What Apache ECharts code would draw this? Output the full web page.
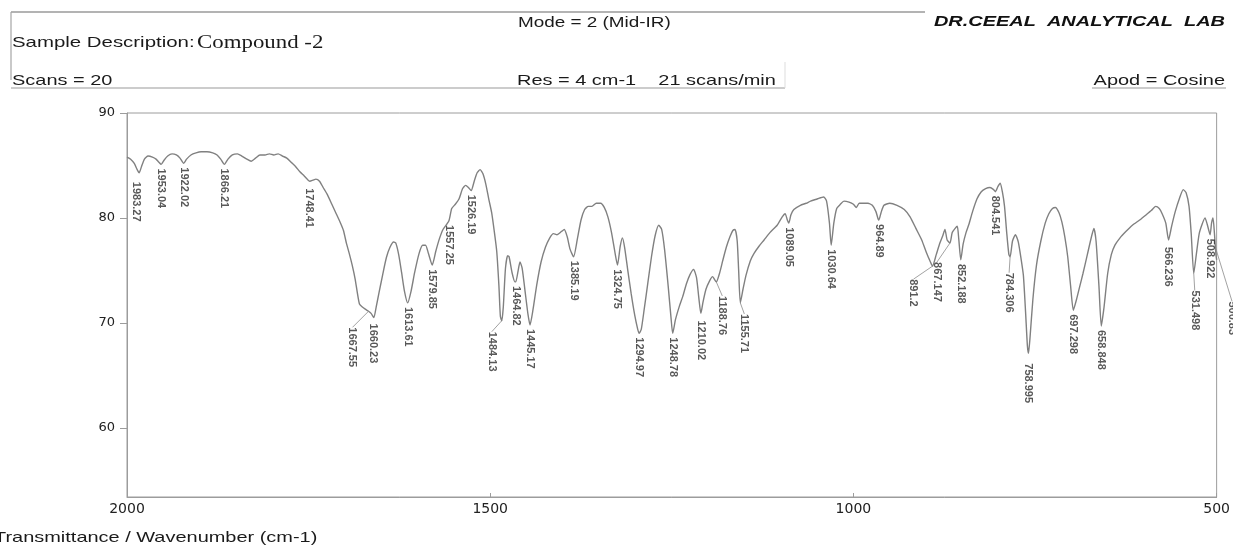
<!DOCTYPE html>
<html><head><meta charset="utf-8">
<script src="https://cdn.jsdelivr.net/npm/echarts@6/dist/echarts.min.js"></script>
<style>html,body{margin:0;padding:0;background:#fff}#c{width:1233px;height:545px}</style>
</head><body><div id="c"></div>
<script>
// ---- spectrum (wavenumber cm-1 / %T) ----
const wavenumbers = [2000,1995,1990,1986,1983.3,1980,1976,1971,1965,1960,1956,1953,1949,1944,1938,1932,1927,1922,1918,1912,1905,1898,1890,1882,1876,1871,1866,1861,1855,1848,1842,1835,1829,1823,1817,1810,1804,1798,1792,1786,1780,1774,1768,1762,1756,1752,1748.4,1744,1740,1735,1730,1724,1718,1712,1706,1702,1698,1694,1690,1686,1683,1680,1676,1672,1667.5,1664,1660.2,1657,1653,1648,1643,1638,1633,1630,1626,1622,1618,1613.6,1609,1604,1598,1593,1589,1585,1579.8,1575,1570,1565,1557,1553,1548,1543,1538,1534,1530,1526.2,1522,1518,1514,1510,1506,1502,1498,1494,1491,1488,1486,1484.1,1482,1479,1476,1474,1470,1466,1464.8,1462,1459,1456,1452,1448,1445.2,1441,1436,1430,1424,1418,1413,1408,1402,1398,1394,1390,1385.2,1380,1375,1370,1365,1360,1354,1348,1343,1338,1333,1328,1324.8,1321,1318,1315,1311,1306,1301,1297,1295,1292,1288,1283,1278,1273,1268,1264,1260,1255,1251,1248.8,1245,1240,1235,1230,1225,1220,1216,1213,1210,1207,1203,1198,1194,1188.8,1184,1180,1175,1170,1166,1163,1160,1158,1155.7,1152,1148,1142,1137,1130,1123,1115,1105,1098,1094,1091,1089,1086,1082,1073,1065,1059,1050,1041,1037,1033,1030.6,1027,1023,1018,1013,1006,1000,996,992,986,980,974,969,966,964.9,962,958,950,940,930,922,914,906,899,894,891.2,886,881,877,874,871,867.1,864,860,857,855,852.2,849,845,841,836,830,824,818,812,807,804.5,801,798,795,792,789,786,784.3,781,777,773,769,766,763,760.5,759,757,753,748,742,736,731,726,722,717,713,709,705,701,697.3,693,688,684,678,672,669,666,662,658.8,655,650,645,640,633,625,616,606,597,590,584,579,575,570,566.2,562,557,551,546,542,538,535,531.5,528,524,520,516,513,509,507,505,503,501,500];
const transmittance = [85.8,85.6,85.2,84.6,84.3,84.9,85.6,85.9,85.8,85.6,85.3,85.1,85.5,85.9,86.1,86.0,85.7,85.2,85.6,86.0,86.2,86.3,86.3,86.2,86.0,85.6,85.1,85.6,86.0,86.1,85.9,85.6,85.4,85.7,86.0,86.0,86.1,86.0,86.1,85.9,85.7,85.3,84.9,84.4,84.0,83.7,83.5,83.6,83.7,83.5,82.9,82.2,81.3,80.4,79.5,78.8,77.6,76.6,75.5,74.2,72.9,71.8,71.5,71.3,71.1,70.9,70.5,71.5,72.9,74.6,76.2,77.2,77.7,77.6,76.5,74.8,73.0,71.9,73.0,74.8,76.6,77.4,77.4,76.6,75.5,76.8,78.0,78.9,79.7,80.9,81.3,81.8,82.8,83.1,82.9,82.6,83.5,84.3,84.6,84.2,83.2,81.8,80.5,78.5,76.8,73.5,70.6,70.2,71.5,75.2,76.4,76.3,74.8,73.9,73.9,74.8,75.8,75.2,73.0,70.8,69.8,71.3,73.6,75.8,77.2,78.1,78.5,78.4,78.7,78.9,78.2,77.0,76.3,78.0,79.8,80.8,81.1,81.1,81.4,81.4,81.0,80.1,78.6,76.6,75.5,77.3,78.1,77.2,75.2,72.8,70.7,69.4,69.0,69.4,71.3,73.8,76.3,78.3,79.3,78.9,77.0,73.5,70.4,69.0,70.3,71.5,72.5,73.7,74.6,75.1,74.3,72.5,70.9,72.0,73.2,74.0,74.4,73.9,74.8,75.9,77.2,78.2,78.8,78.9,77.8,75.0,71.9,73.2,74.5,75.9,76.6,77.3,77.9,78.6,79.3,80.1,80.4,79.8,79.5,80.3,80.8,81.2,81.4,81.6,81.8,82.0,81.6,79.5,77.4,79.5,80.9,81.3,81.6,81.5,81.3,81.0,81.4,81.4,81.4,81.2,80.6,79.9,79.8,80.5,81.2,81.4,81.2,80.8,80.1,79.0,77.9,76.6,75.8,75.4,76.5,77.6,78.3,78.9,77.9,77.6,78.6,79.0,79.2,78.0,76.0,77.5,78.6,79.4,80.6,81.8,82.5,82.8,82.9,82.7,82.5,83.0,83.3,82.5,81.1,78.6,76.5,76.3,77.8,78.4,77.7,76.0,74.5,71.0,67.8,67.1,68.5,72.2,75.5,77.8,79.5,80.4,80.9,81.0,80.5,79.6,78.2,76.3,73.5,71.2,72.2,73.6,74.7,76.5,78.3,79.0,77.8,73.5,69.7,71.5,74.7,76.5,77.4,78.1,78.7,79.3,79.8,80.3,80.7,81.1,80.9,80.4,79.5,77.9,79.2,80.6,81.9,82.7,82.4,81.1,78.5,74.7,76.5,78.5,79.4,80.0,79.4,78.4,79.5,80.0,78.5,76.5,76.0];

// ---- picked peaks ----
const peakWavenumbers = [1983.27,1953.04,1922.02,1866.21,1748.41,1667.55,1660.23,1613.61,1579.85,1557.25,1526.19,1484.13,1464.82,1445.17,1385.19,1324.75,1294.97,1248.78,1210.02,1188.76,1155.71,1089.05,1030.64,964.89,891.2,867.147,852.188,804.541,784.306,758.995,697.298,658.848,566.236,531.498,508.922,500.83];
const peakTransmittance = [84.3,85.1,85.2,85.1,83.5,71.1,70.5,71.9,75.5,79.7,82.6,70.2,73.9,69.8,76.3,75.5,69.0,69.0,70.9,73.9,71.9,79.5,77.4,79.8,75.4,77.6,76.0,82.5,76.3,67.1,71.2,69.7,77.9,74.7,78.4,77.0];

// ---- axes ----
const xTicks = [2000, 1500, 1000, 500];
const yTicks = [60, 70, 80, 90];

// screen-space label displacement [right, down] (style only) for labels on leader lines
const labelShift = {
  '1983.27': [-3, 5], '1667.55': [-16, 12], '1660.23': [-1, 2], '1484.13': [-10, 7],
  '1188.76': [6, 10], '1155.71': [4, 7], '891.2': [-19, 9], '867.147': [-13, 15],
  '784.306': [-1, 12], '531.498': [1, 13], '500.83': [16, 48], '758.995': [0, 6],
  '1210.02': [0, 3], '566.236': [0, 3], '1748.41': [-1, 3]
};

const chart = echarts.init(document.getElementById('c'), null, {renderer: 'canvas'});
const curve = wavenumbers.map((w, i) => [w, transmittance[i]]);
const peaks = peakWavenumbers.map((w, i) => {
  const lab = String(w);
  const item = {value: [w, peakTransmittance[i]], name: lab};
  if (labelShift[lab] && (Math.abs(labelShift[lab][0]) > 3 || labelShift[lab][1] > 10)) item.labelLine = {show: true};
  return item;
});

const hdrFont = 'Liberation Sans, Arial, sans-serif';
function hText(text, x, y, opts) {
  opts = opts || {};
  return {
    type: 'text', x: x, y: y, scaleX: opts.sx || 1.33, z: 10,
    style: {
      text: text, x: 0, y: 0,
      font: opts.font || ('15px ' + hdrFont),
      fill: opts.fill || '#1a1a1a',
      align: opts.align || 'left', verticalAlign: 'middle'
    }
  };
}
function hLine(x1, y1, x2, y2, c, w) {
  return {type: 'line', z: 9, shape: {x1, y1, x2, y2}, style: {stroke: c || '#9a9a9a', lineWidth: w || 1.2}};
}

chart.setOption({
  animation: false,
  backgroundColor: '#ffffff',
  grid: {left: 127, right: 12, top: 113, bottom: 48, show: true, borderColor: '#9c9c9c', borderWidth: 1},
  xAxis: {
    type: 'value', inverse: true, min: 500, max: 2000, interval: 500,
    axisLine: {show: true, lineStyle: {color: '#9c9c9c', width: 1}},
    axisTick: {show: true, inside: true, length: 4, lineStyle: {color: '#9c9c9c'}},
    axisLabel: {color: '#222', fontSize: 14, fontFamily: 'DejaVu Sans', margin: 5,
      formatter: v => xTicks.indexOf(v) >= 0 ? String(v) : ''},
    splitLine: {show: false}
  },
  yAxis: {
    type: 'value', min: 53.4, max: 90, splitNumber: 4,
    axisLine: {show: true, lineStyle: {color: '#9c9c9c', width: 1}},
    axisTick: {show: true, length: 7, lineStyle: {color: '#9c9c9c'}},
    axisLabel: {color: '#222', fontSize: 13, fontFamily: 'DejaVu Sans', margin: 12, showMinLabel: false,
      formatter: v => yTicks.indexOf(v) >= 0 ? String(v) : ''},
    splitLine: {show: false}
  },
  series: [
    {
      type: 'line', data: curve, showSymbol: false, symbol: 'none', smooth: 0.2,
      lineStyle: {color: '#808080', width: 1.4}, z: 3
    },
    {
      type: 'scatter', data: peaks, symbolSize: 0.01, z: 4, silent: true,
      itemStyle: {color: 'rgba(0,0,0,0)'},
      label: {
        show: true, position: 'bottom', distance: 4, rotate: -90,
        align: 'left', verticalAlign: 'middle',
        formatter: p => p.name,
        color: '#2e2e2e', fontSize: 11, fontWeight: 'bold',
        fontFamily: "'Liberation Sans', Arial, sans-serif"
      },
      labelLine: {show: false, lineStyle: {color: '#8a8a8a', width: 0.8}},
      labelLayout: function (params) {
        const s = labelShift[peakWavenumbers[params.dataIndex] + ''];
        // label frame is rotated 90deg clockwise: local dx -> screen down, local dy -> screen left
        return s ? {dx: s[1], dy: -s[0]} : {};
      }
    }
  ],
  graphic: [
    hLine(11, 12, 925, 12, '#9a9a9a', 1.3),
    hLine(11, 12, 11, 80, '#a5a5a5', 1.2),
    hLine(11, 88, 785, 88, '#9a9a9a', 1.2),
    hLine(785, 62, 785, 88, '#dddddd', 1),
    hLine(1092, 88, 1226, 88, '#9a9a9a', 1.2),
    hText('Mode = 2 (Mid-IR)', 518, 23, {sx: 1.26}),
    hText('DR.CEEAL  ANALYTICAL  LAB', 1225, 22, {align: 'right', font: 'italic bold 15px ' + hdrFont, fill: '#111'}),
    hText('Sample Description:', 12, 43, {sx: 1.36}),
    hText('Compound -2', 197, 43, {font: '18px Liberation Serif, Times New Roman, serif', sx: 1.27}),
    hText('Scans = 20', 12, 81),
    hText('Res = 4 cm-1    21 scans/min', 517, 81),
    hText('Apod = Cosine', 1225, 81, {align: 'right'}),
    hText('Transmittance / Wavenumber (cm-1)', -6, 538)
  ]
});
</script>
</body></html>
